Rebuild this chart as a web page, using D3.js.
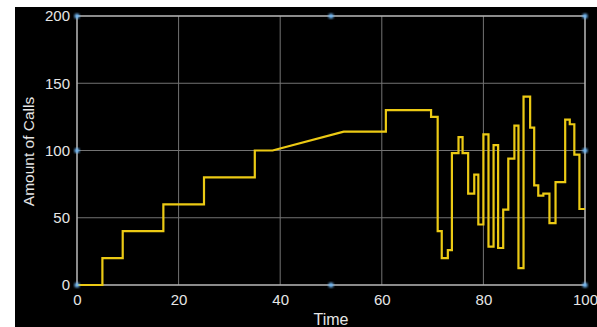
<!DOCTYPE html>
<html>
<head>
<meta charset="utf-8">
<script src="https://cdn.jsdelivr.net/npm/d3@7"></script>
<style>
  html, body { margin: 0; padding: 0; background: #ffffff; }
  svg { display: block; }
  text { font-family: "Liberation Sans", Arial, Helvetica, sans-serif; }
</style>
</head>
<body>
<svg id="chart" width="597" height="327"></svg>
<script>
// Logged call-count signal: repeated times mark instant level changes.
const sampleTime = [
  0, 5, 5, 9, 9, 17, 17, 25, 25, 35, 35, 38.5,
  52.5, 60.8, 60.8, 69.7, 69.7, 71.0, 71.0, 71.8, 71.8, 73.0, 73.0,
  73.8, 73.8, 75.1, 75.1, 75.9, 75.9, 77.0, 77.0, 78.2, 78.2, 79.0, 79.0,
  80.0, 80.0, 81.0, 81.0, 82.0, 82.0, 82.9, 82.9, 83.9, 83.9, 84.9, 84.9,
  86.1, 86.1, 86.9, 86.9, 87.9, 87.9, 89.2, 89.2, 90.0, 90.0, 90.8, 90.8,
  91.8, 91.8, 93.0, 93.0, 94.2, 94.2, 96.1, 96.1, 97.0, 97.0, 97.9, 97.9,
  98.9, 98.9, 100
];
const calls = [
  0, 0, 20, 20, 40, 40, 60, 60, 80, 80, 100, 100,
  114, 114, 130, 130, 125, 125, 40, 40, 20, 20, 26,
  26, 98, 98, 110, 110, 98, 98, 68, 68, 82, 82, 45,
  45, 112, 112, 28.5, 28.5, 104, 104, 27.5, 27.5, 56, 56, 94,
  94, 118.5, 118.5, 12.5, 12.5, 140, 140, 117, 117, 74, 74, 66.5,
  66.5, 68, 68, 46, 46, 76.5, 76.5, 123, 123, 119.5, 119.5, 97,
  97, 56.5, 56.5
];
const xTicks = [0, 20, 40, 60, 80, 100];
const yTicks = [0, 50, 100, 150, 200];
const xLabel = "Time";
const yLabel = "Amount of Calls";

const svg = d3.select("#chart");
const W = 597, H = 327;

// dark figure background
svg.append("rect").attr("x", 15).attr("y", 7).attr("width", W - 15).attr("height", H - 7)
  .attr("fill", "#000000");

const x = d3.scaleLinear().domain([0, 100]).range([77, 585]);
const y = d3.scaleLinear().domain([0, 200]).range([285, 16]);

// grid
const grid = svg.append("g").attr("stroke", "#808080").attr("stroke-width", 1).attr("opacity", 0.9);
xTicks.forEach(t => grid.append("line")
  .attr("x1", x(t)).attr("x2", x(t)).attr("y1", y(0)).attr("y2", y(200)));
yTicks.forEach(t => grid.append("line")
  .attr("y1", y(t)).attr("y2", y(t)).attr("x1", x(0)).attr("x2", x(100)));

// axes box
svg.append("rect").attr("x", x(0)).attr("y", y(200))
  .attr("width", x(100) - x(0)).attr("height", y(0) - y(200))
  .attr("fill", "none").attr("stroke", "#c4c4c4").attr("stroke-width", 1.2);

// axes with tick labels
const xAxis = svg.append("g").attr("transform", `translate(0,${y(0)})`)
  .call(d3.axisBottom(x).tickValues(xTicks).tickSize(0).tickPadding(9).tickFormat(d3.format("d")));
const yAxis = svg.append("g").attr("transform", `translate(${x(0)},0)`)
  .call(d3.axisLeft(y).tickValues(yTicks).tickSize(0).tickPadding(7).tickFormat(d3.format("d")));
[xAxis, yAxis].forEach(a => {
  a.select(".domain").remove();
  a.selectAll("text").attr("fill", "#e6e6e6").attr("font-size", 15)
    .attr("font-family", "Liberation Sans, Arial, sans-serif");
});

// axis titles
svg.append("text").attr("x", (x(0) + x(100)) / 2).attr("y", 325)
  .attr("text-anchor", "middle").attr("fill", "#e6e6e6").attr("font-size", 16)
  .text(xLabel);
svg.append("text").attr("transform", `translate(34,${(y(0) + y(200)) / 2 + 1}) rotate(-90)`)
  .attr("text-anchor", "middle").attr("fill", "#e6e6e6").attr("font-size", 15.5)
  .text(yLabel);

// signal trace
const line = d3.line().x((d, i) => x(sampleTime[i])).y((d, i) => y(calls[i]));
svg.append("path").datum(calls)
  .attr("d", line)
  .attr("fill", "none").attr("stroke", "#ecca14").attr("stroke-width", 2.2)
  .attr("stroke-linejoin", "miter");

// selection handles on the axes box
const defs = svg.append("defs");
defs.append("filter").attr("id", "glow").append("feGaussianBlur").attr("stdDeviation", 0.8);
const handles = [[0, 0], [50, 0], [100, 0], [0, 100], [100, 100], [0, 200], [50, 200], [100, 200]];
svg.append("g").selectAll("circle").data(handles).join("circle")
  .attr("cx", d => x(d[0])).attr("cy", d => y(d[1])).attr("r", 2.6)
  .attr("fill", "#6fb6f2").attr("filter", "url(#glow)");
</script>
</body>
</html>
